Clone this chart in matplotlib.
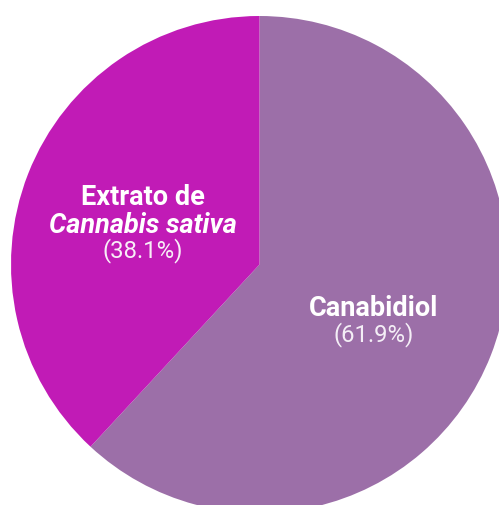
import matplotlib.pyplot as plt

labels = ["Canabidiol", "Extrato de Cannabis sativa"]
shares = [61.9, 38.1]
colors = ["#9c6fa8", "#c11bb6"]

plt.rcParams['font.family'] = ['Roboto', 'DejaVu Sans']

H = 505  # figure height in pixels, used to flip pixel y into data y

fig = plt.figure(figsize=(4.99, 5.05), dpi=100)
ax = fig.add_axes([0, 0, 1, 1])

# pie in pixel coordinates, partly cut off at right and bottom
ax.pie(shares, colors=colors, startangle=90, counterclock=False,
       center=(259.5, H - 264.5), radius=248.5, frame=True,
       wedgeprops=dict(linewidth=0))
ax.set_xlim(0, 499)
ax.set_ylim(0, H)
ax.set_aspect('equal', adjustable='box')
ax.axis('off')

white = "white"
ax.text(374, H - 316, "Canabidiol", ha='center', va='baseline',
        fontsize=19.5, fontweight='bold', color=white)
ax.text(374, H - 341, f"({shares[0]}%)", ha='center', va='baseline',
        fontsize=17.2, color="#f4eef6")

ax.text(143, H - 205, "Extrato de", ha='center', va='baseline',
        fontsize=19.5, fontweight='bold', color=white)
ax.text(143, H - 233, "Cannabis sativa", ha='center', va='baseline',
        fontsize=19.5, fontweight='bold', fontstyle='italic', color=white)
ax.text(143, H - 257, f"({shares[1]}%)", ha='center', va='baseline',
        fontsize=17.2, color="#f8eef7")

fig.savefig("out.png", dpi=100)
